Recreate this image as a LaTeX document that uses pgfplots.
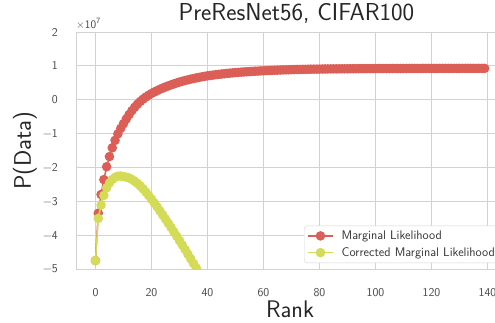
\documentclass[border=0pt]{standalone}
\usepackage{pgfplots}
\pgfplotsset{compat=1.18}
\definecolor{mlred}{HTML}{DB5F57}
\definecolor{mlyel}{HTML}{D3DB57}
\definecolor{gridgray}{HTML}{D2D2D2}
\begin{document}
\begin{tikzpicture}
\begin{axis}[
  at={(0,0)}, anchor=south west,
  scale only axis, width=428.1pt, height=237pt,
  xmin=-6.95, xmax=145.95, ymin=-5, ymax=2,
  xtick={0,20,40,60,80,100,120,140},
  xticklabels={0,20,40,60,80,100,120,140},
  ytick={-5,-4,-3,-2,-1,0,1,2},
  yticklabels={\textminus5,\textminus4,\textminus3,\textminus2,\textminus1,0,1,2},
  major tick length=0pt,
  grid=major,
  major grid style={draw=gridgray, line width=0.9pt},
  axis line style={draw=gridgray, line width=0.9pt},
  tick label style={font=\fontsize{12}{14}\selectfont\sffamily, text=black!72},
  yticklabel style={inner sep=0pt, anchor=east, xshift=-18pt},
  xticklabel style={inner sep=0pt, anchor=north, yshift=-19pt},
  title={PreResNet56, CIFAR100},
  title style={font=\fontsize{24.5}{27}\selectfont\sffamily, text=black!85, at={(rel axis cs:0.5,1)}, anchor=base, yshift=6pt, xshift=6.4pt, inner sep=0pt},
  xlabel={Rank},
  xlabel style={font=\fontsize{24}{27}\selectfont\sffamily, text=black!85, at={(rel axis cs:0.5,0)}, anchor=north, yshift=-32pt, inner sep=0pt},
  clip marker paths=true,
  legend style={at={(rel axis cs:1,0)}, anchor=south east, xshift=-4pt, yshift=6pt,
    draw=gridgray, rounded corners=3pt, fill=white,
    font=\fontsize{12.5}{14}\selectfont\sffamily, text=black!80,
    inner xsep=3pt, inner ysep=3pt, row sep=2.5pt},
  legend cell align=left,
  legend image code/.code={\draw[mark repeat=2,mark phase=2] plot coordinates {(0pt,0pt) (12.5pt,0pt) (25pt,0pt)}; \path (31pt,0pt);},
  after end axis/.code={
    \node[anchor=south west, inner sep=0pt, font=\fontsize{11.5}{12}\selectfont\sffamily, text=black!72] at (rel axis cs:0,1) [yshift=3.5pt] {\texttimes10\textsuperscript{7}};
    \node[inner sep=0pt, font=\fontsize{24}{27}\selectfont\sffamily, text=black!85, anchor=south, rotate=90] at (axis cs:-20.88,-1.5) {P(Data)};
  },
]
\addplot[color=mlred, line width=1.5pt, mark=*, mark size=4pt, mark options={fill=mlred, draw=mlred}] coordinates {
(0,-4.75) (1,-3.35) (2,-2.80) (3,-2.36) (4,-1.98) (5,-1.68) (6,-1.42) (7,-1.20) (8,-1.01) (9,-0.85)
(10,-0.710) (11,-0.569) (12,-0.440) (13,-0.325) (14,-0.223) (15,-0.132) (16,-0.052) (17,0.018) (18,0.080) (19,0.134)
(20,0.183) (21,0.227) (22,0.268) (23,0.306) (24,0.343) (25,0.377) (26,0.409) (27,0.439) (28,0.468) (29,0.495)
(30,0.520) (31,0.544) (32,0.567) (33,0.588) (34,0.608) (35,0.626) (36,0.644) (37,0.661) (38,0.676) (39,0.691)
(40,0.705) (41,0.717) (42,0.728) (43,0.739) (44,0.749) (45,0.759) (46,0.768) (47,0.777) (48,0.785) (49,0.793)
(50,0.800) (51,0.807) (52,0.814) (53,0.820) (54,0.826) (55,0.831) (56,0.837) (57,0.842) (58,0.846) (59,0.851)
(60,0.855) (61,0.859) (62,0.863) (63,0.867) (64,0.871) (65,0.874) (66,0.877) (67,0.880) (68,0.883) (69,0.885)
(70,0.888) (71,0.890) (72,0.893) (73,0.895) (74,0.897) (75,0.898) (76,0.900) (77,0.902) (78,0.903) (79,0.904)
(80,0.905) (81,0.907) (82,0.908) (83,0.909) (84,0.910) (85,0.910) (86,0.911) (87,0.912) (88,0.913) (89,0.914)
(90,0.914) (91,0.915) (92,0.916) (93,0.916) (94,0.917) (95,0.918) (96,0.918) (97,0.919) (98,0.919) (99,0.920)
(100,0.920) (101,0.921) (102,0.921) (103,0.921) (104,0.921) (105,0.921) (106,0.922) (107,0.922) (108,0.922) (109,0.922)
(110,0.922) (111,0.923) (112,0.923) (113,0.923) (114,0.923) (115,0.923) (116,0.923) (117,0.924) (118,0.924) (119,0.924)
(120,0.924) (121,0.924) (122,0.924) (123,0.925) (124,0.925) (125,0.925) (126,0.925) (127,0.925) (128,0.925) (129,0.925)
(130,0.926) (131,0.926) (132,0.926) (133,0.926) (134,0.926) (135,0.926) (136,0.926) (137,0.926) (138,0.926) (139,0.926)
};
\addlegendentry{Marginal Likelihood}
\addplot[color=mlyel, line width=1.5pt, mark=*, mark size=4pt, mark options={fill=mlyel, draw=mlyel}] coordinates {
(0,-4.75) (1,-3.506) (2,-3.112) (3,-2.828) (4,-2.604) (5,-2.460) (6,-2.356) (7,-2.292) (8,-2.258) (9,-2.254)
(10,-2.270) (11,-2.285) (12,-2.312) (13,-2.353) (14,-2.407) (15,-2.472) (16,-2.548) (17,-2.634) (18,-2.728) (19,-2.830)
(20,-2.937) (21,-3.049) (22,-3.164) (23,-3.282) (24,-3.401) (25,-3.523) (26,-3.647) (27,-3.773) (28,-3.900) (29,-4.029)
(30,-4.160) (31,-4.292) (32,-4.425) (33,-4.560) (34,-4.696) (35,-4.834) (36,-4.972) (37,-5.111) (38,-5.252)
};
\addlegendentry{Corrected Marginal Likelihood}
\end{axis}
\pgfresetboundingbox
\path[use as bounding box] (-76pt,-53pt) rectangle (419pt,269pt);
\end{tikzpicture}
\end{document}
